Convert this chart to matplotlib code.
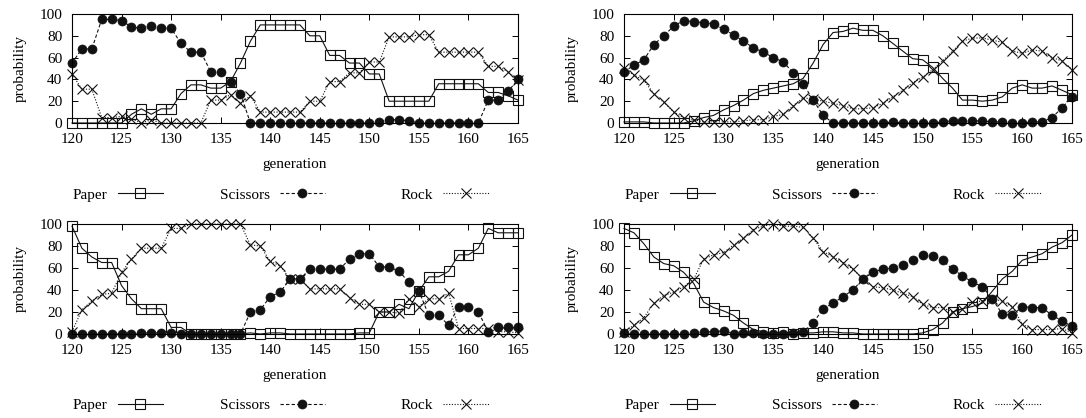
import numpy as np
import matplotlib
matplotlib.use("Agg")
import matplotlib.pyplot as plt
from matplotlib.lines import Line2D

generations = list(range(120, 166))
series_names = ["Paper", "Scissors", "Rock"]

p1_paper = [0, 0, 0, 0, 0, 0, 8, 13, 8, 13, 13, 27, 35, 35, 32, 32, 38, 55, 75, 90, 90, 90, 90, 90, 80, 80,
            62, 62, 55, 55, 45, 45, 20, 20, 20, 20, 20, 36, 36, 36, 36, 36, 28, 28, 25, 21]
p1_scissors = [55, 68, 68, 95, 95, 94, 88, 87, 89, 87, 87, 73, 65, 65, 47, 47, 38, 27,
               0, 0, 0, 0, 0, 0, 0, 0, 0, 0, 0, 0, 0, 1, 3, 3, 2, 0, 0, 0, 0, 0, 0, 0, 21, 21, 29, 40]
p1_rock = [45, 31, 31, 5, 5, 6, 4, 0, 3, 0, 0, 0, 0, 0, 21, 21, 26, 18, 25, 10, 10, 10, 10, 10, 20, 20,
           38, 38, 46, 46, 56, 56, 79, 79, 79, 81, 81, 65, 65, 65, 65, 65, 52, 52, 47, 39]

p2_paper = [1, 1, 1, 0, 0, 0, 0, 2, 5, 7, 12, 16, 21, 27, 30, 32, 34, 36, 41, 55, 72, 83, 84, 87, 85, 85,
            80, 73, 66, 59, 58, 51, 41, 32, 21, 21, 20, 21, 24, 32, 35, 32, 32, 34, 30, 26]
p2_scissors = [47, 53, 58, 72, 80, 89, 94, 93, 92, 91, 86, 81, 75, 69, 65, 60, 56, 46, 36, 21, 7,
               0, 0, 0, 0, 0, 0, 1, 0, 0, 0, 0, 1, 2, 2, 2, 2, 1, 1, 0, 0, 1, 1, 5, 14, 24]
p2_rock = [50, 44, 39, 27, 19, 10, 5, 3, 1, 1, 1, 1, 2, 3, 3, 6, 8, 16, 23, 22, 20, 18, 16, 13, 13, 14,
           18, 24, 30, 37, 42, 49, 57, 66, 75, 78, 78, 76, 74, 66, 64, 67, 66, 60, 57, 49]

p3_paper = [98, 78, 70, 65, 65, 44, 32, 23, 23, 23, 6, 6, 0, 0, 0, 0, 0, 0, 1, 0, 1, 1, 0, 0, 0, 0,
            0, 0, 0, 1, 1, 20, 20, 27, 23, 39, 52, 52, 57, 72, 72, 78, 96, 92, 92, 92]
p3_scissors = [0, 0, 0, 0, 0, 0, 0, 1, 1, 1, 1, 0, 0, 0, 0, 0, 0, 0, 20, 22, 34, 38, 50, 50, 59, 59,
               59, 59, 68, 73, 73, 61, 61, 57, 47, 39, 17, 17, 8, 25, 25, 20, 2, 6, 6, 6]
p3_rock = [2, 22, 30, 36, 37, 56, 68, 78, 78, 78, 96, 96, 100, 100, 100, 100, 100, 100, 81, 80, 66, 62,
           50, 50, 41, 41, 41, 41, 33, 27, 27, 20, 20, 19, 32, 25, 32, 32, 37, 5, 5, 5, 5, 2, 2, 1]

p4_paper = [96, 92, 82, 70, 64, 62, 56, 46, 29, 24, 21, 17, 10, 4, 2, 1, 2, 0, 1, 1, 2, 2, 1, 1, 0, 0,
            0, 0, 0, 0, 1, 4, 10, 20, 23, 25, 28, 39, 50, 57, 67, 70, 73, 79, 83, 90]
p4_scissors = [1, 0, 0, 0, 0, 0, 0, 1, 2, 2, 3, 0, 1, 1, 0, 0, 0, 1, 2, 10, 23, 28, 34, 40, 50, 56,
               59, 60, 63, 67, 72, 71, 67, 59, 53, 47, 43, 32, 18, 17, 25, 24, 24, 17, 12, 7]
p4_rock = [2, 8, 15, 28, 35, 38, 43, 50, 68, 72, 74, 81, 87, 95, 98, 100, 98, 98, 97, 87, 75, 70, 65,
           59, 50, 43, 42, 40, 37, 34, 27, 24, 24, 20, 23, 29, 30, 32, 30, 25, 9, 4, 4, 4, 5, 1]

x_ticks = [120, 125, 130, 135, 140, 145, 150, 155, 160, 165]
y_ticks = [0, 20, 40, 60, 80, 100]

plt.rcParams['font.family'] = ['Liberation Serif', 'DejaVu Serif']
FS = 11

W, H = 1086, 418
fig = plt.figure(figsize=(W / 100, H / 100), dpi=100)

panels = [
    (p1_paper, p1_scissors, p1_rock, 72, 518, 14, 123, 165, 195),
    (p2_paper, p2_scissors, p2_rock, 624, 1072, 14, 123, 165, 195),
    (p3_paper, p3_scissors, p3_rock, 72, 518, 224, 334, 375, 405),
    (p4_paper, p4_scissors, p4_rock, 624, 1072, 224, 334, 375, 405),
]

styles = [
    dict(linestyle='-', marker='s', markersize=7.2, fillstyle='none', markeredgewidth=0.8),
    dict(linestyle=(0, (3, 2)), marker='o', markersize=6.5, markeredgewidth=0.5),
    dict(linestyle=(0, (1, 1.5)), marker='x', markersize=6.5, markeredgewidth=0.8),
]
col = '#111111'

for (pa, sc, ro, x0, x1, y0, y1, ylab, yleg) in panels:
    ax = fig.add_axes([x0 / W, 1 - y1 / H, (x1 - x0) / W, (y1 - y0) / H])
    handles = []
    for vals, st in zip((pa, sc, ro), styles):
        ln, = ax.plot(generations, vals, color=col, lw=0.8, clip_on=False,
                      markeredgecolor=col, markerfacecolor=col if st['marker'] == 'o' else 'none',
                      **st)
        handles.append(ln)
    ax.set_xlim(120, 165)
    ax.set_ylim(0, 100)
    ax.set_xticks(x_ticks)
    ax.set_yticks(y_ticks)
    ax.tick_params(direction='in', top=True, right=True, length=4, width=0.7,
                   labelsize=FS)
    ax.tick_params(axis='x', pad=7.5)
    ax.tick_params(axis='y', pad=7)
    for s in ax.spines.values():
        s.set_linewidth(0.8)
    ax.set_xlabel('generation', fontsize=FS)
    ax.xaxis.label.set_va('center')
    ax.xaxis.set_label_coords(0.5, (y1 - ylab) / (y1 - y0))
    ax.set_ylabel('probability', fontsize=FS)
    ax.yaxis.label.set_va('center')
    ax.yaxis.set_label_coords(-52 / (x1 - x0), 0.5)

    leg_x = [73, 220, 401]
    for h, name, lx in zip(handles, series_names, leg_x):
        fig.legend(handles=[h], labels=[name], loc='center left',
                   bbox_to_anchor=((lx + x0 - 72) / W, 1 - yleg / H),
                   frameon=False, markerfirst=False, fontsize=FS,
                   handlelength=2.95, handletextpad=0.65, borderpad=0,
                   borderaxespad=0, numpoints=1)

fig.savefig('out.png', dpi=100)
